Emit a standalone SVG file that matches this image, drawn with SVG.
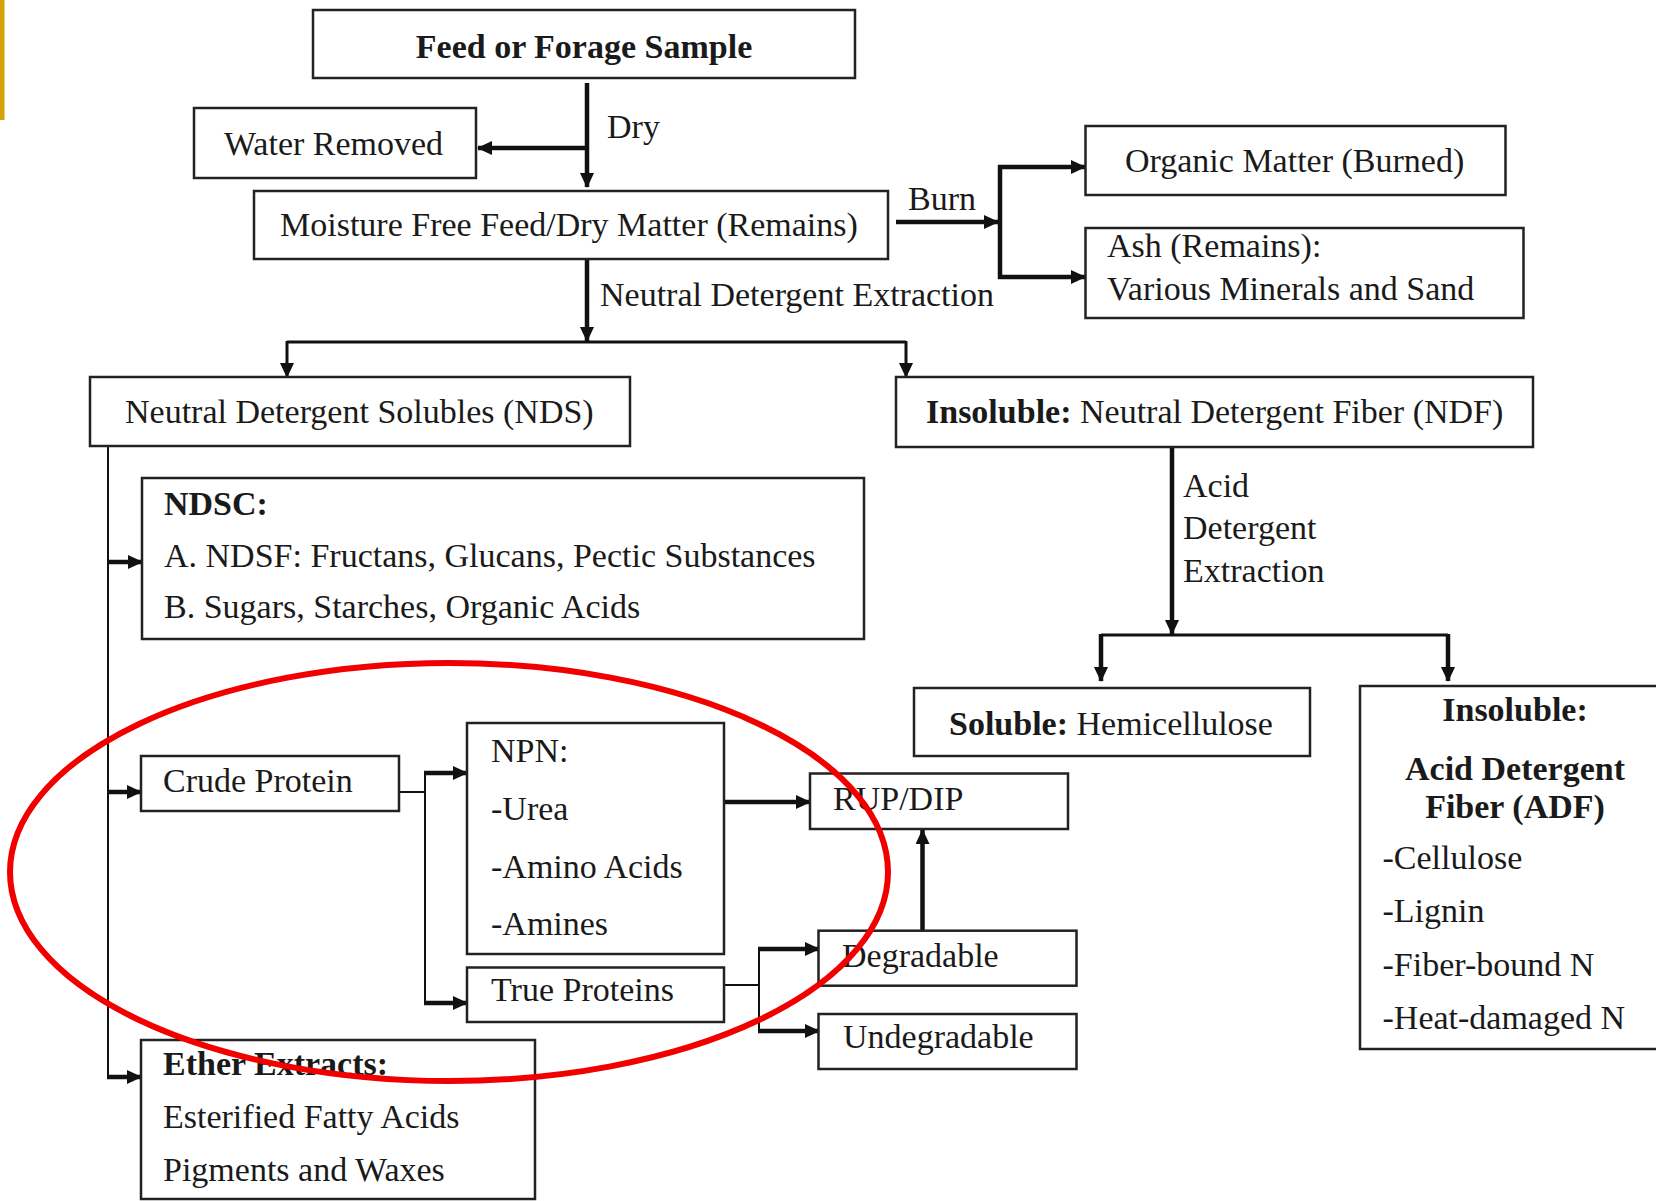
<svg xmlns="http://www.w3.org/2000/svg" width="1656" height="1201" viewBox="0 0 1656 1201">
<style>
  .box { fill: #ffffff; stroke: #222222; stroke-width: 2.5; }
  text { font-family: "Liberation Serif", "Times New Roman", serif; font-size: 34px; fill: #1a1a1a; }
  .b { font-weight: bold; }
  .ln { fill: none; stroke: #111111; stroke-linecap: butt; }
  .thick { stroke-width: 4.5; }
  .mid { stroke-width: 3; }
  .thin { stroke-width: 2; }
</style>
<defs>
  <marker id="ah" markerUnits="userSpaceOnUse" markerWidth="16" markerHeight="14" refX="14" refY="7" orient="auto">
    <path d="M0,0 L15,7 L0,14 z" fill="#111111"/>
  </marker>
</defs>
<rect width="1656" height="1201" fill="#ffffff"/>
<rect x="0" y="0" width="4.5" height="120" fill="#d4a106"/>

<g id="connectors">
  <!-- Dry -->
  <line class="ln thick" x1="587" y1="83" x2="587" y2="187" marker-end="url(#ah)"/>
  <line class="ln thick" x1="587" y1="148" x2="478" y2="148" marker-end="url(#ah)"/>
  <!-- Burn -->
  <line class="ln thick" x1="896" y1="222" x2="998" y2="222" marker-end="url(#ah)"/>
  <line class="ln thick" x1="1000" y1="165" x2="1000" y2="279"/>
  <line class="ln thick" x1="998" y1="167" x2="1085" y2="167" marker-end="url(#ah)"/>
  <line class="ln thick" x1="998" y1="277" x2="1085" y2="277" marker-end="url(#ah)"/>
  <!-- Neutral detergent extraction -->
  <line class="ln thick" x1="587" y1="259" x2="587" y2="341" marker-end="url(#ah)"/>
  <line class="ln mid" x1="287" y1="342" x2="906" y2="342"/>
  <line class="ln mid" x1="287" y1="341" x2="287" y2="377" marker-end="url(#ah)"/>
  <line class="ln mid" x1="906" y1="341" x2="906" y2="377" marker-end="url(#ah)"/>
  <!-- NDS branch -->
  <line class="ln thin" x1="108" y1="446" x2="108" y2="1078"/>
  <line class="ln thick" x1="107" y1="562" x2="142" y2="562" marker-end="url(#ah)"/>
  <line class="ln thick" x1="107" y1="792" x2="141" y2="792" marker-end="url(#ah)"/>
  <line class="ln thick" x1="107" y1="1077" x2="141" y2="1077" marker-end="url(#ah)"/>
  <!-- Crude protein -->
  <line class="ln thin" x1="399" y1="792" x2="425" y2="792"/>
  <line class="ln thin" x1="425" y1="773" x2="425" y2="1004"/>
  <line class="ln thick" x1="424" y1="773" x2="467" y2="773" marker-end="url(#ah)"/>
  <line class="ln thick" x1="424" y1="1003" x2="467" y2="1003" marker-end="url(#ah)"/>
  <!-- NPN -> RUP/DIP -->
  <line class="ln thick" x1="724" y1="802" x2="810" y2="802" marker-end="url(#ah)"/>
  <!-- True proteins -->
  <line class="ln thin" x1="724" y1="985" x2="759" y2="985"/>
  <line class="ln thin" x1="759" y1="949" x2="759" y2="1032"/>
  <line class="ln thick" x1="758" y1="949" x2="819" y2="949" marker-end="url(#ah)"/>
  <line class="ln thick" x1="758" y1="1031" x2="819" y2="1031" marker-end="url(#ah)"/>
  <!-- Degradable -> RUP/DIP -->
  <line class="ln thick" x1="922.5" y1="931" x2="922.5" y2="830" marker-end="url(#ah)"/>
  <!-- NDF acid detergent extraction -->
  <line class="ln thick" x1="1172" y1="447" x2="1172" y2="634" marker-end="url(#ah)"/>
  <line class="ln mid" x1="1101" y1="635" x2="1448" y2="635"/>
  <line class="ln thick" x1="1101" y1="634" x2="1101" y2="681" marker-end="url(#ah)"/>
  <line class="ln thick" x1="1448" y1="634" x2="1448" y2="681" marker-end="url(#ah)"/>
</g>

<g id="feed">
  <rect class="box" x="313" y="10" width="542" height="68"/>
  <text class="b" x="584" y="58" text-anchor="middle">Feed or Forage Sample</text>
</g>
<g id="label-dry"><text x="607" y="138">Dry</text></g>
<g id="water">
  <rect class="box" x="194" y="108" width="282" height="70"/>
  <text x="224" y="155">Water Removed</text>
</g>
<g id="moisture">
  <rect class="box" x="254" y="191" width="634" height="68"/>
  <text x="280" y="236">Moisture Free Feed/Dry Matter (Remains)</text>
</g>
<g id="label-burn"><text x="908" y="210">Burn</text></g>
<g id="organic">
  <rect class="box" x="1085.5" y="126" width="420" height="69"/>
  <text x="1125" y="172">Organic Matter (Burned)</text>
</g>
<g id="ash">
  <rect class="box" x="1085.5" y="228" width="438" height="90"/>
  <text x="1107" y="257">Ash (Remains):</text>
  <text x="1107" y="300">Various Minerals and Sand</text>
</g>
<g id="label-nde"><text x="600" y="306">Neutral Detergent Extraction</text></g>
<g id="nds">
  <rect class="box" x="90" y="377" width="540" height="69"/>
  <text x="125" y="423">Neutral Detergent Solubles (NDS)</text>
</g>
<g id="ndf">
  <rect class="box" x="896" y="377" width="637" height="70"/>
  <text x="926" y="423"><tspan class="b">Insoluble:</tspan> Neutral Detergent Fiber (NDF)</text>
</g>
<g id="ndsc">
  <rect class="box" x="142" y="478" width="722" height="161"/>
  <text class="b" x="164" y="515">NDSC:</text>
  <text x="164" y="567">A. NDSF: Fructans, Glucans, Pectic Substances</text>
  <text x="164" y="618">B. Sugars, Starches, Organic Acids</text>
</g>
<g id="label-ade">
  <text x="1183" y="497">Acid</text>
  <text x="1183" y="539">Detergent</text>
  <text x="1183" y="582">Extraction</text>
</g>
<g id="soluble">
  <rect class="box" x="914" y="688" width="396" height="68"/>
  <text x="949" y="735"><tspan class="b">Soluble:</tspan> Hemicellulose</text>
</g>
<g id="adf">
  <rect class="box" x="1360" y="686" width="320" height="363"/>
  <text class="b" x="1515" y="721" text-anchor="middle">Insoluble:</text>
  <text class="b" x="1515" y="780" text-anchor="middle">Acid Detergent</text>
  <text class="b" x="1515" y="818" text-anchor="middle">Fiber (ADF)</text>
  <text x="1382.5" y="869">-Cellulose</text>
  <text x="1382.5" y="922">-Lignin</text>
  <text x="1382.5" y="976">-Fiber-bound N</text>
  <text x="1382.5" y="1029">-Heat-damaged N</text>
</g>
<g id="crude">
  <rect class="box" x="141" y="756" width="258" height="55"/>
  <text x="163" y="792">Crude Protein</text>
</g>
<g id="npn">
  <rect class="box" x="467" y="723" width="257" height="231"/>
  <text x="491" y="762">NPN:</text>
  <text x="491" y="820">-Urea</text>
  <text x="491" y="878">-Amino Acids</text>
  <text x="491" y="935">-Amines</text>
</g>
<g id="true-proteins">
  <rect class="box" x="467" y="967.5" width="257" height="54.5"/>
  <text x="491" y="1001">True Proteins</text>
</g>
<g id="rup-dip">
  <rect class="box" x="810" y="773.5" width="258" height="55.5"/>
  <text x="833" y="810">RUP/DIP</text>
</g>
<g id="degradable">
  <rect class="box" x="818.5" y="930.7" width="258" height="55"/>
  <text x="842" y="967">Degradable</text>
</g>
<g id="undegradable">
  <rect class="box" x="818.5" y="1014" width="258" height="55"/>
  <text x="843" y="1048">Undegradable</text>
</g>
<g id="ether">
  <rect class="box" x="141" y="1040" width="394" height="159"/>
  <text class="b" x="163" y="1075">Ether Extracts:</text>
  <text x="163" y="1128">Esterified Fatty Acids</text>
  <text x="163" y="1181">Pigments and Waxes</text>
</g>
<g id="highlight">
  <ellipse cx="449" cy="872" rx="439" ry="209" fill="none" stroke="#f20000" stroke-width="6"/>
</g>
</svg>
